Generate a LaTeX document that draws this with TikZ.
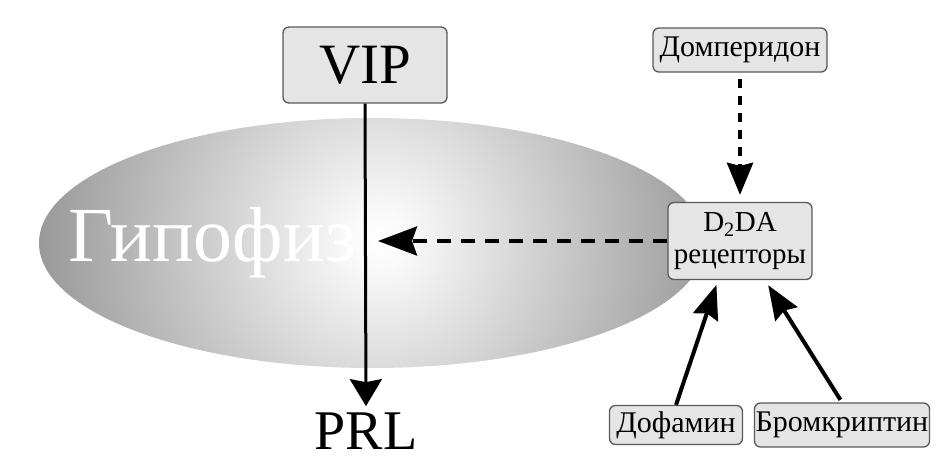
\documentclass[tikz,border=0pt]{standalone}
\usepackage{fontspec}
\setmainfont{Liberation Serif}
\usetikzlibrary{arrows.meta}
\pgfdeclareradialshading{circgrad}{\pgfpoint{0bp}{0bp}}{color(0bp)=(white); color(2bp)=(white!98!black); color(25bp)=(black!40); color(50bp)=(black!40)}
\tikzset{
  box/.style={draw=black!65, line width=1.3pt, fill=black!10, rounded corners=6pt, inner sep=0pt, align=center},
  bigtxt/.style={font=\fontsize{57}{60}\selectfont},
  midtxt/.style={font=\fontsize{30}{32}\selectfont},
  solidarr/.style={line width=4pt, -{Stealth[length=34pt,width=26pt,inset=4pt]}},
}
\begin{document}
\begin{tikzpicture}[x=1pt,y=-1pt]
\useasboundingbox (0,0) rectangle (936,463);
\fill[white] (0,0) rectangle (936,463);
% pituitary ellipse with circular radial gradient
\begin{scope}
  \clip (372,243) ellipse [x radius=333, y radius=125];
  \shade[shading=circgrad] (378,240) circle [radius=340];
\end{scope}
\node[text=white, font=\fontsize{78}{80}\selectfont, anchor=base] (hyp) at (212,261) {Гипофиз};
% nodes
\node[box, bigtxt, minimum width=164pt, minimum height=76pt] (vip) at (365,65) {VIP};
\node[font=\fontsize{56}{58}\selectfont, anchor=base, inner sep=0pt] (prl) at (366,449) {PRL};
\node[box, midtxt, minimum width=174pt, minimum height=44pt] (dom) at (740,50) {Домперидон};
\node[box, font=\fontsize{29}{32}\selectfont, minimum width=144pt, minimum height=77pt] (d2) at (740,241) {D\textsubscript{2}DA\\рецепторы};
\node[box, midtxt, minimum width=133pt, minimum height=39pt] (dof) at (676,425) {Дофамин};
\node[box, midtxt, minimum width=175pt, minimum height=44pt] (brom) at (842,425) {Бромкриптин};
\coordinate (hp) at (378,241);
% connectors
\draw[line width=3pt, shorten >=6pt, -{Stealth[length=27pt,width=32pt,inset=3pt]}] (vip.south) -- (prl.north);
\draw[line width=3.5pt, dash pattern=on 14pt off 10pt, -{Stealth[length=39pt,width=29pt,inset=5pt]}] (d2.west) -- (hp);
\draw[line width=4pt, dash pattern=on 9pt off 8pt, shorten <=6pt, shorten >=7pt, -{Stealth[length=32pt,width=26pt,inset=3pt]}] (dom.south) -- (d2.north);
\draw[solidarr, shorten >=5pt] (dof.north) -- ([xshift=-22pt]d2.south);
\draw[solidarr, shorten >=6pt, shorten <=3pt] (brom.north) -- ([xshift=25pt]d2.south);
\end{tikzpicture}
\end{document}
